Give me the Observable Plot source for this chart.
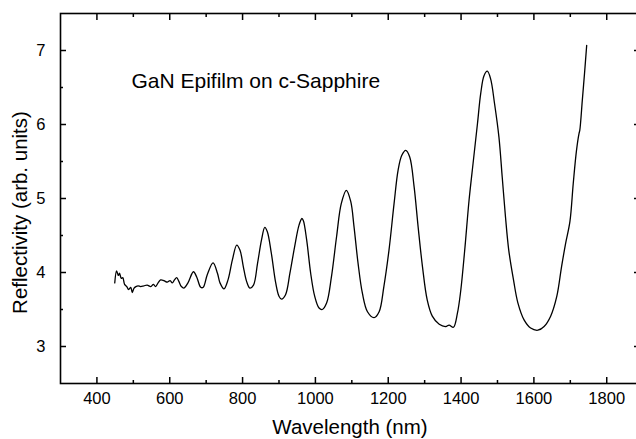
<!DOCTYPE html>
<html><head><meta charset="utf-8">
<script src="https://cdn.jsdelivr.net/npm/d3@7"></script>
<script src="https://cdn.jsdelivr.net/npm/@observablehq/plot@0.6"></script>
<style>body{margin:0;background:#fff} #chart{width:636px;height:439px;overflow:hidden}</style>
</head><body><div id="chart"></div>
<script>
const wavelength = [
  449, 454, 459, 462, 467, 471, 476, 482, 487, 493, 497, 502, 507, 513, 520, 529, 538, 548, 555, 561,
  568, 575, 584, 593, 601, 607, 613, 619, 625, 632, 639, 650, 665, 674, 685, 692, 703, 719, 731, 738,
  749, 760, 772, 784, 793, 802, 811, 820, 830, 841, 852, 861, 868, 879, 891, 900, 907, 918, 930, 943,
  955, 963, 967, 976, 987, 998, 1010, 1019, 1031, 1044, 1058, 1071, 1085, 1097, 1106, 1117, 1129, 1143, 1161, 1175,
  1188, 1202, 1216, 1227, 1237, 1248, 1259, 1271, 1282, 1294, 1307, 1321, 1340, 1358, 1367, 1379, 1390, 1399, 1410, 1422,
  1434, 1445, 1454, 1463, 1472, 1481, 1492, 1504, 1513, 1522, 1531, 1544, 1556, 1573, 1591, 1611, 1628, 1646, 1663, 1676,
  1687, 1699, 1708, 1717, 1724, 1726, 1733, 1739, 1745
];
const reflectivity = [
  3.86, 4.02, 3.96, 3.99, 3.92, 3.93, 3.84, 3.81, 3.77, 3.80, 3.73, 3.79, 3.81, 3.82, 3.81, 3.82, 3.83, 3.81, 3.84, 3.81,
  3.86, 3.90, 3.89, 3.87, 3.89, 3.86, 3.90, 3.93, 3.88, 3.81, 3.79, 3.86, 4.01, 3.94, 3.80, 3.80, 3.97, 4.13, 3.99, 3.86,
  3.78, 3.90, 4.17, 4.37, 4.30, 4.08, 3.88, 3.79, 3.83, 4.12, 4.44, 4.61, 4.55, 4.26, 3.86, 3.68, 3.64, 3.70, 3.99, 4.35,
  4.64, 4.73, 4.70, 4.44, 3.99, 3.68, 3.52, 3.50, 3.59, 3.94, 4.48, 4.93, 5.11, 4.96, 4.62, 4.13, 3.72, 3.47, 3.39, 3.47,
  3.81, 4.30, 4.93, 5.38, 5.58, 5.65, 5.56, 5.16, 4.62, 4.08, 3.63, 3.41, 3.30, 3.27, 3.29, 3.26, 3.45, 3.75, 4.30, 4.98,
  5.52, 6.01, 6.42, 6.66, 6.72, 6.62, 6.28, 5.83, 5.29, 4.75, 4.30, 3.90, 3.59, 3.36, 3.25, 3.22, 3.27, 3.41, 3.68, 4.08,
  4.39, 4.69, 5.20, 5.65, 5.88, 5.92, 6.33, 6.69, 7.07
];
const xMajorTicks = [400, 600, 800, 1000, 1200, 1400, 1600, 1800];
const xMinorTicks = [500, 700, 900, 1100, 1300, 1500, 1700];
const yMajorTicks = [3, 4, 5, 6, 7];
const yMinorTicks = [3.5, 4.5, 5.5, 6.5];
const titleText = "GaN Epifilm on c-Sapphire";
const xLabel = "Wavelength (nm)";
const yLabel = "Reflectivity (arb. units)";

const data = wavelength.map((w, i) => ({w, r: reflectivity[i]}));
const font = "'Liberation Sans', Arial, Helvetica, sans-serif";
const fmt = (d) => String(d);

const tickStyle = {fill: "none", stroke: "black", label: null};
const plot = Plot.plot({
  width: 636,
  height: 439,
  marginLeft: 60,
  marginTop: 13,
  marginBottom: 56,
  marginRight: -3,
  style: {fontFamily: font, background: "white", color: "black"},
  x: {domain: [300, 1890], label: null},
  y: {domain: [2.5, 7.5], label: null},
  marks: [
    Plot.line(data, {x: "w", y: "r", curve: "catmull-rom", stroke: "black", strokeWidth: 1.3}),
    Plot.axisX(xMajorTicks, {...tickStyle, anchor: "bottom", tickSize: 6, dy: -6, strokeWidth: 1.5}),
    Plot.axisX(xMinorTicks, {...tickStyle, anchor: "bottom", tickSize: 3, dy: -3, strokeWidth: 1.5}),
    Plot.axisX(xMajorTicks, {...tickStyle, anchor: "top", tickSize: 6, dy: 6, strokeWidth: 1.5}),
    Plot.axisX(xMinorTicks, {...tickStyle, anchor: "top", tickSize: 3, dy: 3, strokeWidth: 1.5}),
    Plot.axisY(yMajorTicks, {...tickStyle, anchor: "left", tickSize: 6, dx: 6, strokeWidth: 1.5}),
    Plot.axisY(yMinorTicks, {...tickStyle, anchor: "left", tickSize: 3, dx: 3, strokeWidth: 1.5}),
    Plot.axisY(yMajorTicks, {...tickStyle, anchor: "right", tickSize: 6, dx: -6, strokeWidth: 1.5}),
    Plot.axisY(yMinorTicks, {...tickStyle, anchor: "right", tickSize: 3, dx: -3, strokeWidth: 1.5}),
    Plot.axisX(xMajorTicks, {anchor: "bottom", tickSize: 0, tickPadding: 8.5, tickFormat: fmt, fontSize: 16.5, label: null, fill: "black"}),
    Plot.axisY(yMajorTicks, {anchor: "left", tickSize: 0, tickPadding: 15, tickFormat: fmt, fontSize: 16.5, label: null, fill: "black"}),
    Plot.frame({stroke: "black", strokeWidth: 1.6}),
    Plot.text([titleText], {frameAnchor: "top-left", dx: 71, dy: 68, textAnchor: "start", lineAnchor: "middle", fontSize: 21, fill: "black"}),
    Plot.text([yLabel], {frameAnchor: "left", rotate: -90, dx: -40.5, dy: 14, fontSize: 20.5, textAnchor: "middle", lineAnchor: "middle", fill: "black"}),
    Plot.text([xLabel], {frameAnchor: "bottom", dy: 44, fontSize: 20.5, textAnchor: "middle", lineAnchor: "middle", fill: "black"})
  ]
});
document.getElementById("chart").appendChild(plot);
</script>
</body></html>
